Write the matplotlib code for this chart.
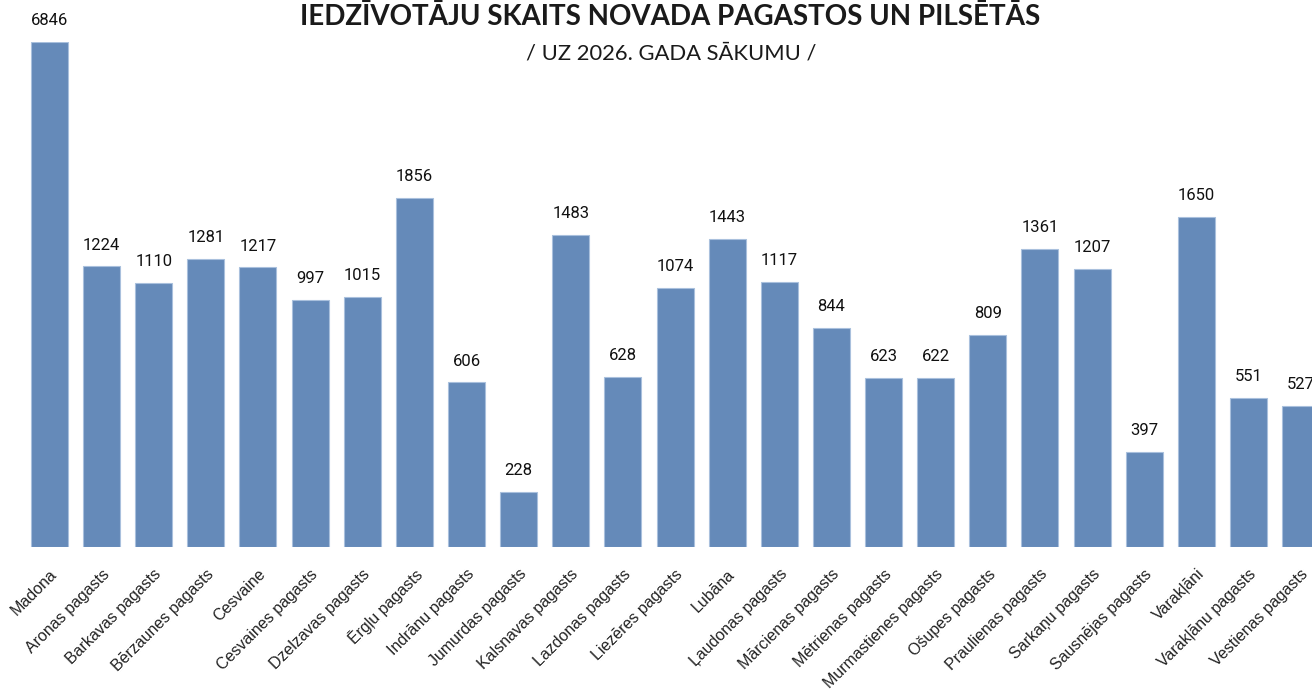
import numpy as np
import matplotlib
matplotlib.use("Agg")
import matplotlib.pyplot as plt

# population per parish / town at the start of 2026
places = ["Madona", "Aronas pagasts", "Barkavas pagasts", "Bērzaunes pagasts",
          "Cesvaine", "Cesvaines pagasts", "Dzelzavas pagasts", "Ērgļu pagasts",
          "Indrānu pagasts", "Jumurdas pagasts", "Kalsnavas pagasts",
          "Lazdonas pagasts", "Liezēres pagasts", "Lubāna", "Ļaudonas pagasts",
          "Mārcienas pagasts", "Mētrienas pagasts", "Murmastienes pagasts",
          "Ošupes pagasts", "Praulienas pagasts", "Sarkaņu pagasts",
          "Sausnējas pagasts", "Varakļāni", "Varakļānu pagasts", "Vestienas pagasts"]
population = [6846, 1224, 1110, 1281, 1217, 997, 1015, 1856, 606, 228, 1483,
              628, 1074, 1443, 1117, 844, 623, 622, 809, 1361, 1207, 397,
              1650, 551, 527]

title = "IEDZĪVOTĀJU SKAITS NOVADA PAGASTOS UN PILSĒTĀS"
subtitle = "/ UZ 2026. GADA SĀKUMU /"


# the source chart uses a compressed value axis:
# linear for small numbers, logarithmic in the middle, flatter at the top
def fwd(v):
    v = np.maximum(np.asarray(v, dtype=float), 1e-9)
    lin = 0.24 * v
    mid = 96 + 165 * np.log(v / 400)
    top = 361.6 + 116.5 * np.log(v / 2000)
    return np.where(v <= 400, lin, np.where(v <= 2000, mid, top))


def inv(y):
    y = np.asarray(y, dtype=float)
    lin = y / 0.24
    mid = 400 * np.exp((y - 96) / 165)
    top = 2000 * np.exp((y - 361.6) / 116.5)
    return np.where(y <= 96, lin, np.where(y <= 361.6, mid, top))


bar_color = "#658ab9"

fig = plt.figure(figsize=(13.12, 6.9), dpi=100)
ax = fig.add_axes([0.0178, 0.2072, 0.9934, 0.7319])
ax.set_yscale("function", functions=(fwd, inv))

x = np.arange(len(places))
bars = ax.bar(x, population, width=0.71, color=bar_color,
              edgecolor="#a9c0dd", linewidth=0.8)

for xi, val in zip(x, population):
    ax.annotate(str(val), (xi, val), xytext=(0, 10), textcoords="offset points",
                ha="center", va="bottom", fontsize=12, family="Roboto",
                color="#111111")

ax.set_xlim(-0.5, len(places) - 0.5)
ax.set_ylim(0, max(population))
ax.set_xticks(x)
ax.set_xticklabels(places, rotation=45, ha="right", rotation_mode="anchor",
                   fontsize=11.5, family="Liberation Sans", color="#222222")
ax.tick_params(axis="x", length=0, pad=14)
ax.set_yticks([])
ax.yaxis.set_minor_locator(matplotlib.ticker.NullLocator())
for s in ax.spines.values():
    s.set_visible(False)
ax.patch.set_alpha(0)

fig.text(0.511, 0.975, title, ha="center", va="center", fontsize=20,
         fontweight="bold", family="Lato", color="#1a1a1a")
fig.text(0.512, 0.922, subtitle, ha="center", va="center", fontsize=15.8,
         family="Lato", color="#1a1a1a")

fig.savefig("out.png", dpi=100)
